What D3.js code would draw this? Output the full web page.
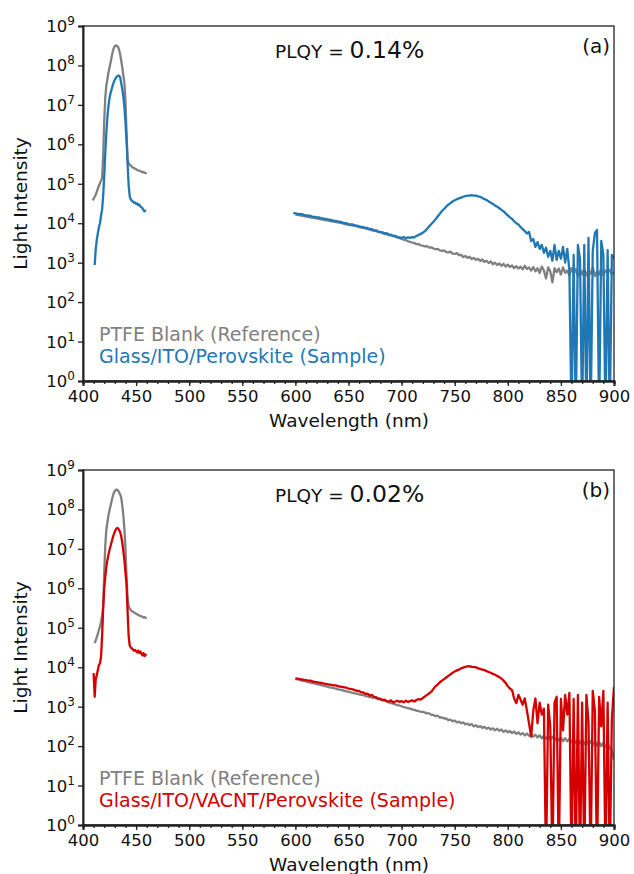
<!DOCTYPE html>
<html>
<head>
<meta charset="utf-8">
<script src="https://cdn.jsdelivr.net/npm/d3@7"></script>
<style>
  body { margin: 0; background: #fff; }
  svg text { font-family: "DejaVu Sans", Verdana, sans-serif; }
</style>
</head>
<body>
<svg id="chart" width="634" height="874"></svg>
<script>
// tick values
const xMajorTicks = [400, 450, 500, 550, 600, 650, 700, 750, 800, 850, 900];
const yExponents = [0, 1, 2, 3, 4, 5, 6, 7, 8, 9];

// all intensities below are log10(counts); -1 means the trace falls off the bottom
// (a) excitation peak, 1 nm steps
const blankA_exStart = 409;
const blankA_ex = [4.58, 4.62, 4.67, 4.72, 4.80, 4.88, 4.95, 5.02, 5.08, 5.15, 5.70, 6.60, 7.20, 7.50, 7.66, 7.82, 7.95, 8.08, 8.22, 8.35,
  8.44, 8.49, 8.51, 8.50, 8.47, 8.40, 8.28, 8.12, 7.95, 7.75, 7.55, 7.10, 6.30, 5.60, 5.52, 5.48, 5.46, 5.43, 5.41, 5.40,
  5.38, 5.37, 5.35, 5.34, 5.33, 5.32, 5.31, 5.29, 5.30, 5.28, 5.27, 5.28];
const sampleA_exStart = 411;
const sampleA_ex = [2.94, 3.35, 3.58, 3.75, 3.90, 4.00, 4.20, 4.35, 4.70, 5.20, 5.80, 6.30, 6.70, 6.98, 7.18, 7.30, 7.40, 7.50, 7.58, 7.64,
  7.69, 7.72, 7.74, 7.74, 7.70, 7.55, 7.40, 7.20, 6.95, 6.55, 6.10, 5.50, 4.95, 4.68, 4.60, 4.57, 4.55, 4.52, 4.53, 4.49,
  4.50, 4.46, 4.47, 4.43, 4.40, 4.38, 4.33, 4.30, 4.34];
// (a) emission region, 2 nm steps
const blankA_emStart = 600;
const blankA_em = [4.22, 4.21, 4.20, 4.19, 4.18, 4.17, 4.16, 4.15, 4.14, 4.13, 4.12, 4.11, 4.10, 4.09, 4.08, 4.07, 4.06, 4.05, 4.04, 4.03,
  4.02, 4.01, 4.00, 3.98, 3.97, 3.96, 3.95, 3.94, 3.93, 3.92, 3.90, 3.89, 3.88, 3.87, 3.85, 3.84, 3.82, 3.81, 3.80, 3.78,
  3.77, 3.75, 3.73, 3.72, 3.70, 3.69, 3.67, 3.66, 3.64, 3.62, 3.60, 3.58, 3.57, 3.54, 3.53, 3.51, 3.50, 3.47, 3.47, 3.44,
  3.43, 3.41, 3.42, 3.38, 3.39, 3.36, 3.34, 3.35, 3.31, 3.30, 3.31, 3.27, 3.26, 3.28, 3.23, 3.22, 3.24, 3.19, 3.20, 3.14,
  3.17, 3.12, 3.15, 3.09, 3.12, 3.07, 3.10, 3.04, 3.08, 3.02, 3.05, 2.99, 3.03, 2.96, 3.00, 2.94, 2.98, 2.92, 2.97, 2.90,
  2.95, 2.89, 2.93, 2.86, 2.91, 2.85, 2.90, 2.83, 2.92, 2.84, 2.88, 2.80, 2.89, 2.78, 2.86, 2.74, 2.90, 2.80, 2.60, 2.88,
  2.78, 2.50, 2.86, 2.76, 2.85, 2.70, 2.88, 2.74, 2.80, 2.68, 2.86, 2.72, 2.84, 2.66, 2.82, 2.70, 2.85, 2.68, 2.80, 2.72,
  2.88, 2.66, 2.78, 2.70, 2.84, 2.68, 2.80, 2.74, 2.82, 2.70, 2.76];
const sampleA_emStart = 598;
const sampleA_em = [4.26, 4.25, 4.24, 4.23, 4.23, 4.21, 4.20, 4.19, 4.19, 4.17, 4.16, 4.15, 4.15, 4.13, 4.12, 4.11, 4.10, 4.09, 4.08, 4.06,
  4.06, 4.04, 4.04, 4.02, 4.00, 4.00, 3.98, 3.97, 3.97, 3.94, 3.94, 3.92, 3.91, 3.90, 3.88, 3.88, 3.85, 3.85, 3.82, 3.82,
  3.79, 3.78, 3.77, 3.74, 3.75, 3.71, 3.71, 3.68, 3.68, 3.65, 3.64, 3.63, 3.65, 3.62, 3.64, 3.63, 3.65, 3.64, 3.68, 3.70,
  3.73, 3.76, 3.80, 3.86, 3.92, 3.98, 4.04, 4.10, 4.17, 4.24, 4.31, 4.36, 4.42, 4.47, 4.51, 4.55, 4.58, 4.61, 4.63, 4.65,
  4.67, 4.69, 4.70, 4.70, 4.71, 4.70, 4.70, 4.68, 4.67, 4.64, 4.61, 4.59, 4.55, 4.52, 4.49, 4.45, 4.42, 4.38, 4.34, 4.30,
  4.25, 4.20, 4.15, 4.11, 4.05, 4.00, 3.97, 3.90, 3.85, 3.80, 3.74, 3.78, 3.55, 3.60, 3.40, 3.52, 3.35, 3.45, 3.25, 3.38,
  3.15, 3.30, 3.05, 3.45, 3.07, 3.30, 3.10, 3.40, 3.00, 3.35, 2.80, -1, 3.20, -1, 3.45, 3.10, -1, 3.45, -1, 3.63,
  -1, 3.30, 3.75, 3.83, -1, 3.55, 3.20, -1, 3.32, -1, 3.20, 3.10];

// (b) excitation peak, 1 nm steps
const blankB_exStart = 411;
const blankB_ex = [4.61, 4.68, 4.76, 4.85, 4.95, 5.03, 5.15, 5.30, 5.54, 6.40, 7.10, 7.49, 7.68, 7.85, 7.98, 8.10, 8.22, 8.33, 8.42, 8.47,
  8.50, 8.50, 8.48, 8.43, 8.38, 8.30, 8.10, 7.85, 7.50, 7.00, 6.30, 5.75, 5.54, 5.48, 5.45, 5.42, 5.41, 5.39, 5.37, 5.36,
  5.34, 5.33, 5.31, 5.30, 5.29, 5.28, 5.26, 5.27, 5.25, 5.26];
const sampleB_exStart = 410;
const sampleB_ex = [3.85, 3.25, 3.70, 3.80, 3.93, 4.06, 4.10, 4.27, 4.80, 5.50, 6.00, 6.30, 6.55, 6.72, 6.86, 6.97, 7.08, 7.18, 7.28, 7.37,
  7.44, 7.50, 7.53, 7.52, 7.48, 7.42, 7.32, 7.15, 6.95, 6.70, 6.40, 6.10, 5.40, 4.78, 4.55, 4.50, 4.48, 4.45, 4.42, 4.44,
  4.40, 4.38, 4.42, 4.36, 4.40, 4.34, 4.30, 4.36, 4.28, 4.32, 4.30];
// (b) emission region, 2 nm steps
const blankB_emStart = 600;
const blankB_em = [3.70, 3.69, 3.68, 3.66, 3.65, 3.64, 3.62, 3.61, 3.60, 3.59, 3.57, 3.56, 3.55, 3.53, 3.52, 3.51, 3.49, 3.48, 3.47, 3.46,
  3.44, 3.43, 3.42, 3.40, 3.39, 3.38, 3.36, 3.35, 3.34, 3.33, 3.31, 3.30, 3.29, 3.27, 3.26, 3.25, 3.23, 3.22, 3.21, 3.19,
  3.18, 3.16, 3.15, 3.13, 3.11, 3.09, 3.08, 3.06, 3.04, 3.03, 3.01, 2.99, 2.98, 2.96, 2.95, 2.93, 2.92, 2.90, 2.89, 2.87,
  2.87, 2.85, 2.83, 2.83, 2.79, 2.79, 2.76, 2.77, 2.72, 2.73, 2.70, 2.70, 2.66, 2.67, 2.63, 2.65, 2.60, 2.62, 2.58, 2.60,
  2.55, 2.57, 2.53, 2.56, 2.50, 2.53, 2.48, 2.51, 2.46, 2.49, 2.44, 2.47, 2.42, 2.45, 2.40, 2.44, 2.39, 2.42, 2.36, 2.40,
  2.35, 2.38, 2.33, 2.37, 2.31, 2.35, 2.29, 2.33, 2.27, 2.32, 2.26, 2.30, 2.24, 2.29, 2.22, 2.27, 2.20, 2.26, 2.19, 2.25,
  2.17, 2.24, 2.15, 2.22, 2.14, 2.21, 2.12, 2.20, 2.12, 2.19, 2.10, 2.18, 2.08, 2.17, 2.06, 2.16, 2.05, 2.14, 2.04, 2.13,
  2.02, 2.12, 2.01, 2.10, 2.00, 2.09, 1.98, 2.07, 1.95, 1.90, 1.65];
const sampleB_emStart = 600;
const sampleB_em = [3.72, 3.71, 3.70, 3.69, 3.68, 3.67, 3.66, 3.66, 3.64, 3.63, 3.62, 3.61, 3.60, 3.59, 3.58, 3.57, 3.56, 3.55, 3.54, 3.54,
  3.52, 3.51, 3.50, 3.49, 3.48, 3.46, 3.45, 3.44, 3.42, 3.40, 3.40, 3.36, 3.36, 3.32, 3.33, 3.28, 3.30, 3.25, 3.24, 3.21,
  3.20, 3.17, 3.18, 3.14, 3.13, 3.16, 3.11, 3.13, 3.15, 3.12, 3.14, 3.11, 3.15, 3.12, 3.14, 3.16, 3.13, 3.17, 3.19, 3.18,
  3.22, 3.26, 3.30, 3.34, 3.38, 3.45, 3.52, 3.56, 3.62, 3.66, 3.70, 3.74, 3.78, 3.82, 3.86, 3.89, 3.92, 3.94, 3.97, 3.99,
  4.01, 4.02, 4.03, 4.01, 4.00, 4.00, 3.97, 3.96, 3.94, 3.93, 3.90, 3.88, 3.86, 3.83, 3.81, 3.78, 3.75, 3.71, 3.66, 3.60,
  3.52, 3.46, 3.42, 3.20, 3.09, 3.30, 3.18, 3.05, 3.21, 2.90, 2.58, 2.24, 2.90, 3.21, 2.58, 3.10, 2.80, 2.95, -1, 3.05,
  2.50, -1, 3.10, 3.25, -1, 3.20, 2.40, 3.30, 2.80, 3.35, -1, 3.20, -1, 3.30, -1, 3.10, -1, 3.30, 2.60, -1,
  3.40, 2.90, -1, 3.25, 2.50, 3.40, -1, 3.10, -1, 2.70, 3.50];

const grey = "#808080", blue = "#1f77b4", red = "#d40000";

const toPoints = (start, step, vals) => vals.map((v, i) => [start + i * step, Math.pow(10, v)]);

const panels = [
  {
    top: 26, bottom: 381, tag: "(a)", plqy: "0.14%", sampleName: "Glass/ITO/Perovskite (Sample)", color: blue,
    traces: [
      { color: grey, pts: toPoints(blankA_exStart, 1, blankA_ex) },
      { color: grey, pts: toPoints(blankA_emStart, 2, blankA_em) },
      { color: blue, pts: toPoints(sampleA_exStart, 1, sampleA_ex) },
      { color: blue, pts: toPoints(sampleA_emStart, 2, sampleA_em) }
    ]
  },
  {
    top: 470, bottom: 825, tag: "(b)", plqy: "0.02%", sampleName: "Glass/ITO/VACNT/Perovskite (Sample)", color: red,
    traces: [
      { color: grey, pts: toPoints(blankB_exStart, 1, blankB_ex) },
      { color: grey, pts: toPoints(blankB_emStart, 2, blankB_em) },
      { color: red, pts: toPoints(sampleB_exStart, 1, sampleB_ex) },
      { color: red, pts: toPoints(sampleB_emStart, 2, sampleB_em) }
    ]
  }
];

const svg = d3.select("#chart");
const left = 83, right = 614;
const x = d3.scaleLinear().domain([400, 900]).range([left, right]);

panels.forEach((p, pi) => {
  const y = d3.scaleLog().domain([1, 1e9]).range([p.bottom, p.top]);
  const g = svg.append("g");

  g.append("clipPath").attr("id", "clip" + pi)
    .append("rect").attr("x", left).attr("y", p.top).attr("width", right - left).attr("height", p.bottom - p.top);

  const line = d3.line().x(d => x(d[0])).y(d => y(d[1]));
  g.append("g").attr("clip-path", `url(#clip${pi})`)
    .selectAll("path").data(p.traces).join("path")
      .attr("d", d => line(d.pts))
      .attr("fill", "none")
      .attr("stroke", d => d.color)
      .attr("stroke-width", 2.3)
      .attr("stroke-linejoin", "round");

  // box
  g.append("rect").attr("x", left).attr("y", p.top).attr("width", right - left).attr("height", p.bottom - p.top)
    .attr("fill", "none").attr("stroke", "#222").attr("stroke-width", 1.3);

  // x axis: minor + major ticks
  const xMinor = g.append("g").attr("transform", `translate(0,${p.bottom})`)
    .call(d3.axisBottom(x).tickValues(d3.range(400, 901, 10)).tickSize(3).tickFormat(""));
  const xMajor = g.append("g").attr("transform", `translate(0,${p.bottom})`)
    .call(d3.axisBottom(x).tickValues(xMajorTicks).tickSize(5).tickPadding(4));
  [xMinor, xMajor].forEach(a => {
    a.select(".domain").attr("stroke", "#222").attr("stroke-width", 2);
    a.selectAll(".tick line").attr("stroke", "#222").attr("stroke-width", 1.3);
  });
  xMajor.selectAll(".tick text").attr("font-size", 16.5).attr("fill", "#111")
    .attr("font-family", "DejaVu Sans, Verdana, sans-serif");

  // y axis
  const yAx = g.append("g").attr("transform", `translate(${left},0)`)
    .call(d3.axisLeft(y).tickValues(yExponents.map(e => Math.pow(10, e))).tickSize(5).tickFormat(""));
  yAx.select(".domain").attr("stroke", "#222").attr("stroke-width", 2);
  yAx.selectAll(".tick line").attr("stroke", "#222").attr("stroke-width", 1.3);
  yExponents.forEach(e => {
    const t = g.append("text").attr("x", left - 8).attr("y", y(Math.pow(10, e)) + 6)
      .attr("text-anchor", "end").attr("font-size", 16.5).attr("fill", "#111");
    t.append("tspan").text("10");
    t.append("tspan").attr("dy", -7).attr("font-size", 12).text(e);
  });

  // axis titles
  g.append("text").attr("x", 349).attr("y", p.bottom + 46)
    .attr("text-anchor", "middle").attr("font-size", 18.5).attr("fill", "#111").text("Wavelength (nm)");
  g.append("text").attr("transform", `translate(27,${(p.top + p.bottom) / 2}) rotate(-90)`)
    .attr("text-anchor", "middle").attr("font-size", 18.5).attr("fill", "#111").text("Light Intensity");

  // annotations
  const ann = g.append("text").attr("x", 275).attr("y", p.top + 32).attr("fill", "#111");
  ann.append("tspan").attr("font-size", 18.5).text("PLQY = ");
  ann.append("tspan").attr("font-size", 23.5).text(p.plqy);
  g.append("text").attr("x", right - 4).attr("y", p.top + 27).attr("text-anchor", "end")
    .attr("font-size", 20).attr("fill", "#111").text(p.tag);

  // legend
  g.append("text").attr("x", 99).attr("y", p.bottom - 40).attr("font-size", 19)
    .attr("fill", grey).text("PTFE Blank (Reference)");
  g.append("text").attr("x", 99).attr("y", p.bottom - 18).attr("font-size", 19)
    .attr("fill", p.color).text(p.sampleName);
});
</script>
</body>
</html>
